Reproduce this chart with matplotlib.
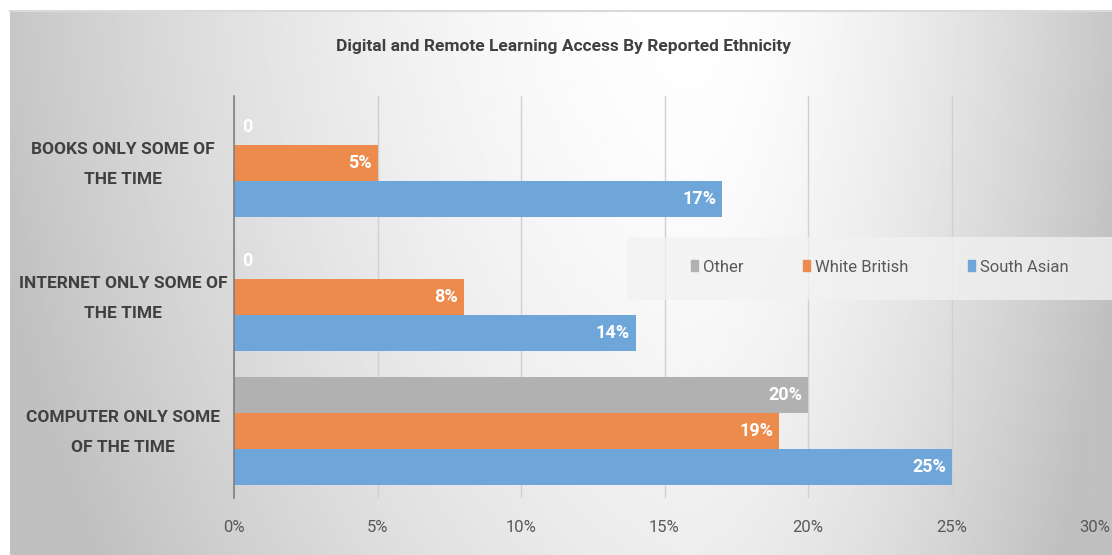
import numpy as np
import matplotlib
matplotlib.use("Agg")
import matplotlib.pyplot as plt
import matplotlib.transforms as mtransforms
from matplotlib.patches import Rectangle

categories = ["COMPUTER ONLY SOME\nOF THE TIME", "INTERNET ONLY SOME OF\nTHE TIME", "BOOKS ONLY SOME OF\nTHE TIME"]
series_names = ["Other", "White British", "South Asian"]
other = [20, 0, 0]
white_british = [19, 8, 5]
south_asian = [25, 14, 17]
xticks = [0, 5, 10, 15, 20, 25, 30]
xtick_labels = ["0%", "5%", "10%", "15%", "20%", "25%", "30%"]
title = "Digital and Remote Learning Access By Reported Ethnicity"

FONT = ["Roboto", "DejaVu Sans"]
plt.rcParams['font.family'] = FONT

W, H = 1112, 555
fig = plt.figure(figsize=(W/100, H/100), dpi=100)

# gradient background frame
bg = fig.add_axes([10/W, 0, 1 - 10/W, (H-10)/H])
bg.set_axis_off()
nx, ny = 500, 200
xx, yy = np.meshgrid(np.linspace(0, 1, nx), np.linspace(0, 1, ny))
cx = 0.62
u = np.where(xx < cx, (cx - xx) / cx, (xx - cx) / (1 - cx))
v = yy  # 0 at top (origin upper)
val = 1 - 0.22 * u ** 1.6 - 0.07 * v ** 1.5
val = np.clip(val, 0.75, 1.0)
bg.imshow(val, cmap="gray", vmin=0, vmax=1, origin="upper", aspect="auto",
          extent=[0, 1, 0, 1], interpolation="bilinear")
bg.set_xlim(0, 1); bg.set_ylim(0, 1)
fig.add_artist(plt.Line2D([10/W, 1], [1 - 11/H, 1 - 11/H], color="#d9d9d9", lw=1.5))

ax = fig.add_axes([234/W, 1 - 498/H, (1095-234)/W, (498-96)/H])
ax.patch.set_alpha(0)

colors = {"Other": "#b1b1b1", "White British": "#ec8b4b", "South Asian": "#6fa6da"}
y = np.arange(len(categories))
bh = 0.268
offsets = {"Other": bh, "White British": 0.0, "South Asian": -bh}
data = {"Other": other, "White British": white_british, "South Asian": south_asian}

for name in series_names:
    vals = data[name]
    ax.barh(y + offsets[name], vals, height=bh, color=colors[name], zorder=3, label=name)
    for yi, v_ in zip(y, vals):
        if v_ == 0:
            ax.text(0.3, yi + offsets[name], "0", color="white", fontsize=13,
                    ha="left", va="center", fontweight="bold", zorder=4)
        else:
            ax.text(v_ - 0.2, yi + offsets[name], f"{v_}%", color="white", fontsize=13,
                    ha="right", va="center", fontweight="bold", zorder=4)

ax.set_xlim(0, 30)
ax.set_ylim(-0.5, 2.5)
ax.set_xticks(xticks)
ax.set_xticklabels(xtick_labels, fontsize=12, color="#595959")
ax.set_yticks(y)
ax.set_yticklabels(categories, fontsize=12.5, color="#404040", fontweight="bold",
                   ha="center", linespacing=2.25)
ax.tick_params(axis="y", length=0, pad=80)
ax.tick_params(axis="x", length=0, pad=16)
shift = mtransforms.ScaledTranslation(0, 7/100, fig.dpi_scale_trans)
for lbl in ax.get_yticklabels():
    lbl.set_transform(lbl.get_transform() + shift)
ax.grid(axis="x", color="#d0d0d0", linewidth=1, zorder=0)
for s in ["top", "right", "bottom"]:
    ax.spines[s].set_visible(False)
ax.spines["left"].set_color("#7f7f7f")
ax.spines["left"].set_linewidth(1.2)
ax.spines["left"].set_zorder(5)

fig.text(563/W, 1 - 47/H, title, ha="center", va="center", fontsize=12.5,
         color="#404040", fontweight="bold")

# legend backdrop
fig.patches.append(Rectangle((627/W, 1 - 300/H), (W-627)/W, 63/H, transform=fig.transFigure,
                             facecolor="#f2f2f2", alpha=0.75, edgecolor="none", zorder=1))
handles = [Rectangle((0, 0), 1, 1, color=colors[n]) for n in series_names]
leg = fig.legend(handles, series_names, loc="center left", bbox_to_anchor=(691/W, 1 - 267/H),
                 ncol=3, frameon=False, fontsize=12, handlelength=0.4, handleheight=0.6,
                 handletextpad=0.3, columnspacing=3.6, borderpad=0, borderaxespad=0,
                 labelcolor="#595959")

fig.savefig("out.png", dpi=100)
